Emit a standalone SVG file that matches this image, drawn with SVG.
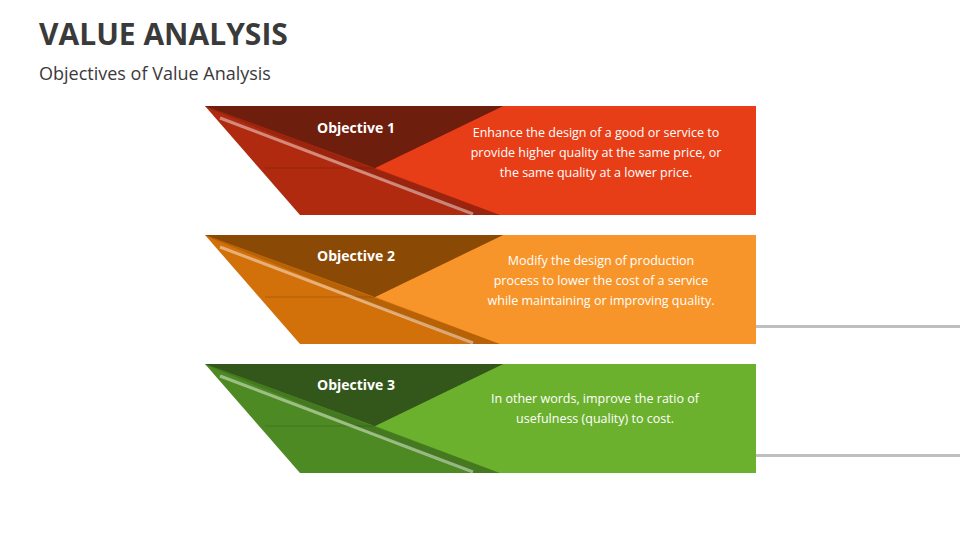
<svg xmlns="http://www.w3.org/2000/svg" width="960" height="540" viewBox="0 0 960 540">
<defs>
<style>
.t{font-family:"Open Sans","Liberation Sans",sans-serif;fill:#fff}
.h{font-weight:bold;font-size:14px}
.b{font-size:12.5px;text-anchor:middle}
.sh{fill:#000;opacity:.25}
.st{stroke:#fff;stroke-opacity:.45;stroke-width:3}
.ln{stroke:#000;stroke-opacity:.15;stroke-width:1}
</style>
<g id="band">
<polygon class="sh" points="303,219 760,219 760,222 305,222"/>
<polygon class="sh" points="756,108 760,110 760,222 756,219"/>
<polygon points="0,0 551,0 551,109 95,109" fill="var(--m)"/>
<polygon points="0,0 295,109 265,109 8,4" fill="#000" fill-opacity=".12"/>
<polygon points="170,62 298,0 551,0 551,109 295,109" fill="var(--b)"/>
<polygon points="0,0 298,0 170,62" fill="var(--d)"/>
<line class="ln" x1="60" y1="62" x2="170" y2="62"/>
<line class="st" x1="15" y1="12" x2="268" y2="108"/>
</g>
</defs>
<text x="39" y="45" font-family="Open Sans,Liberation Sans,sans-serif" font-weight="bold" font-size="30" fill="#3a3a3a">VALUE ANALYSIS</text>
<text x="39" y="80" font-family="Open Sans,Liberation Sans,sans-serif" font-size="18" fill="#3a3a3a">Objectives of Value Analysis</text>
<g id="obj1">
<use href="#band" x="205" y="106" style="--d:#6E1E0C;--m:#B02A10;--b:#E83E18"/>
<text class="t h" x="317" y="133">Objective 1</text>
<text class="t b" x="596" y="137">Enhance the design of a good or service to</text>
<text class="t b" x="596" y="157">provide higher quality at the same price, or</text>
<text class="t b" x="596" y="177">the same quality at a lower price.</text>
</g>
<g id="obj2">
<use href="#band" x="205" y="235" style="--d:#8A4A06;--m:#D2700A;--b:#F7952A"/>
<text class="t h" x="317" y="261">Objective 2</text>
<text class="t b" x="601" y="265">Modify the design of production</text>
<text class="t b" x="601" y="285">process to lower the cost of a service</text>
<text class="t b" x="601" y="305">while maintaining or improving quality.</text>
</g>
<g id="obj3">
<use href="#band" x="205" y="364" style="--d:#33561A;--m:#4E8A24;--b:#6CB12E"/>
<text class="t h" x="317" y="390">Objective 3</text>
<text class="t b" x="595" y="403">In other words, improve the ratio of</text>
<text class="t b" x="595" y="423">usefulness (quality) to cost.</text>
</g>
<g id="connectors"/>
</svg>
